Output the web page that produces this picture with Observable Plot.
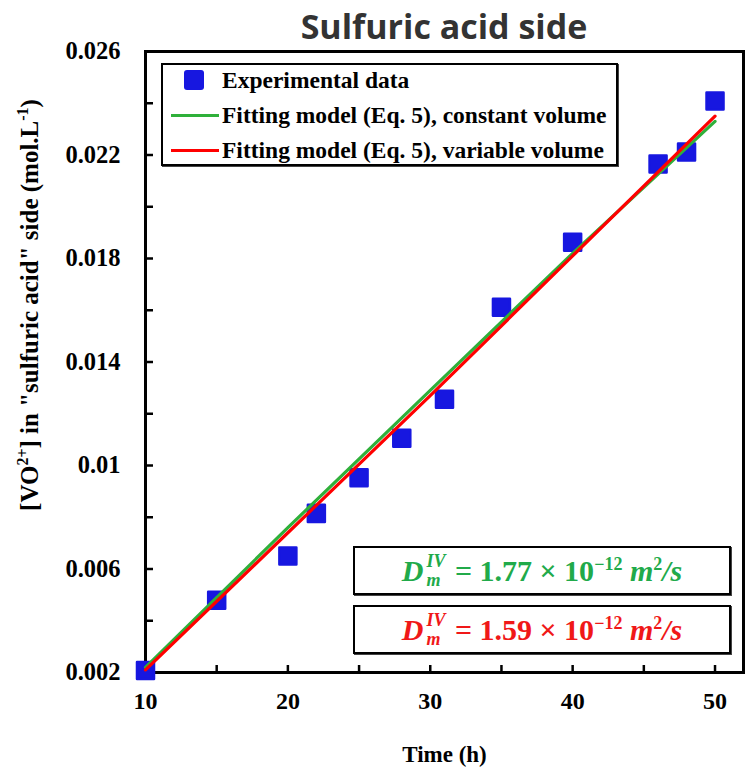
<!DOCTYPE html>
<html><head><meta charset="utf-8">
<script src="https://cdn.jsdelivr.net/npm/d3@7"></script>
<script src="https://cdn.jsdelivr.net/npm/@observablehq/plot@0.6"></script>
<style>
body{margin:0;background:#fff;}
#wrap{position:relative;width:756px;height:772px;overflow:hidden;}
#title{position:absolute;left:145px;width:598px;top:4px;text-align:center;font-family:'Open Sans',Lato,sans-serif;font-weight:bold;font-size:34px;color:#333;line-height:44px;}
#legend{position:absolute;left:161px;top:63px;width:453px;height:99px;border:2px solid #000;box-shadow:1px 1px 0 #444;background:#fff;font-family:'Liberation Serif',serif;font-weight:bold;font-size:23.5px;}
.row{position:absolute;left:0;height:30px;line-height:30px;}
.row .lab{position:absolute;left:59px;white-space:nowrap;}
.sw{position:absolute;}
.dbox{position:absolute;left:353px;width:374px;height:45px;border:2px solid #000;box-shadow:1px 1px 0 #444;background:#fff;text-align:center;line-height:45px;font-family:'Liberation Serif',serif;font-weight:bold;font-size:30px;white-space:nowrap;}
.ss{display:inline-flex;flex-direction:column;vertical-align:middle;font-size:0.6em;line-height:1.05;margin-left:3px;margin-right:2px;text-align:left;position:relative;top:-3px;}
.dbox sup{font-size:0.6em;line-height:0;}
</style></head><body><div id="wrap"></div>
<script>
// ---- data ----
const timeH = [10, 15, 20, 22, 25, 28, 31, 35, 40, 46, 48, 50];
const vo2Conc = [0.00208, 0.00479, 0.0065, 0.00815, 0.00953, 0.01105, 0.01256, 0.01612, 0.01863, 0.02165, 0.02212, 0.02409];
const fitTime = [10, 20, 30, 40, 50];
const fitConstant = [0.0022, 0.0076, 0.0129, 0.0182, 0.0233];
const fitVariable = [0.0021, 0.0074, 0.0127, 0.0181, 0.0235];
const xTickLabels = [10, 20, 30, 40, 50];
const xTickMarks = [10, 15, 20, 25, 30, 35, 40, 45, 50];
const yTickLabels = [0.002, 0.006, 0.01, 0.014, 0.018, 0.022, 0.026];
const yTickMarks = [0.002, 0.004, 0.006, 0.008, 0.01, 0.012, 0.014, 0.016, 0.018, 0.02, 0.022, 0.024, 0.026];
const seriesNames = ["Experimental data", "Fitting model (Eq. 5), constant volume", "Fitting model (Eq. 5), variable volume"];
const diffValues = ["1.77", "1.59"];
const diffExponent = "−12";

const blue = "#1717e0", green = "#2fb03a", red = "#ff0000";
const greenText = "#21aa4a", redText = "#f01818";

const points = timeH.map((t, i) => ({t, v: vo2Conc[i]}));
const constLine = fitTime.map((t, i) => ({t, v: fitConstant[i]}));
const varLine = fitTime.map((t, i) => ({t, v: fitVariable[i]}));

const plot = Plot.plot({
  width: 756, height: 772,
  marginLeft: 145, marginRight: 13, marginTop: 51, marginBottom: 100,
  style: {fontFamily: "'Liberation Serif', serif", fontWeight: "bold", fontSize: "24px", color: "#000", background: "transparent", overflow: "visible"},
  x: {domain: [10, 52]},
  y: {domain: [0.002, 0.026]},
  marks: [
    Plot.axisX(xTickMarks, {tickSize: -7, strokeWidth: 2.5, tickFormat: () => "", label: null}),
    Plot.axisX(xTickLabels, {tickSize: 0, tickPadding: 19, fontSize: 24, label: null}),
    Plot.axisY(yTickMarks, {tickSize: -8, strokeWidth: 2.5, tickFormat: () => "", label: null}),
    Plot.axisY(yTickLabels, {tickSize: 0, tickPadding: 25, fontSize: 24.5, tickFormat: d => String(d), label: null}),
    Plot.frame({stroke: "#000", strokeWidth: 3}),
    Plot.dot(points, {x: "t", y: "v", symbol: "square", r: 9.6, fill: blue, stroke: blue, strokeWidth: 2.5, strokeLinejoin: "round"}),
    Plot.line(constLine, {x: "t", y: "v", stroke: green, strokeWidth: 3.2}),
    Plot.line(varLine, {x: "t", y: "v", stroke: red, strokeWidth: 3.2}),
    Plot.text(["Time (h)"], {frameAnchor: "bottom", dy: 89, fontSize: 23, fontWeight: "bold"})
  ]
});

const wrap = document.getElementById("wrap");
plot.style.position = "absolute";
plot.style.left = "0"; plot.style.top = "0";
wrap.appendChild(plot);

// y axis label with superscripts
const svg = d3.select(plot);
const yl = svg.append("text")
  .attr("transform", "translate(38,305) rotate(-90)")
  .attr("text-anchor", "middle")
  .attr("font-family", "'Liberation Serif', serif")
  .attr("font-weight", "bold")
  .attr("font-size", 25)
  .attr("fill", "#000");
yl.append("tspan").text("[VO");
yl.append("tspan").attr("dy", -10).attr("font-size", 16).text("2+");
yl.append("tspan").attr("dy", 10).text("] in \"sulfuric acid\" side (mol.L");
yl.append("tspan").attr("dy", -10).attr("font-size", 16).text("-1");
yl.append("tspan").attr("dy", 10).text(")");

// title
const title = document.createElement("div");
title.id = "title";
title.textContent = "Sulfuric acid side";
wrap.appendChild(title);

// legend
const legend = document.createElement("div");
legend.id = "legend";
const rowsY = [0, 35, 70];
seriesNames.forEach((name, i) => {
  const row = document.createElement("div");
  row.className = "row";
  row.style.top = rowsY[i] + "px";
  let sw;
  if (i === 0) {
    sw = `<div class="sw" style="left:21px;top:5px;width:20px;height:20px;background:${blue};border-radius:3px;"></div>`;
  } else {
    sw = `<div class="sw" style="left:8px;top:14px;width:48px;height:3px;background:${i === 1 ? green : red};"></div>`;
  }
  row.innerHTML = sw + `<span class="lab">${name}</span>`;
  legend.appendChild(row);
});
wrap.appendChild(legend);

// diffusion coefficient boxes
const boxTops = [546, 605];
const boxColors = [greenText, redText];
diffValues.forEach((val, i) => {
  const b = document.createElement("div");
  b.className = "dbox";
  b.style.top = boxTops[i] + "px";
  b.style.color = boxColors[i];
  b.innerHTML = `<i>D</i><span class="ss"><i>IV</i><i>m</i></span> = ${val} × 10<sup>${diffExponent}</sup> <i>m</i><sup>2</sup><i>/s</i>`;
  wrap.appendChild(b);
});
</script>
</body></html>
